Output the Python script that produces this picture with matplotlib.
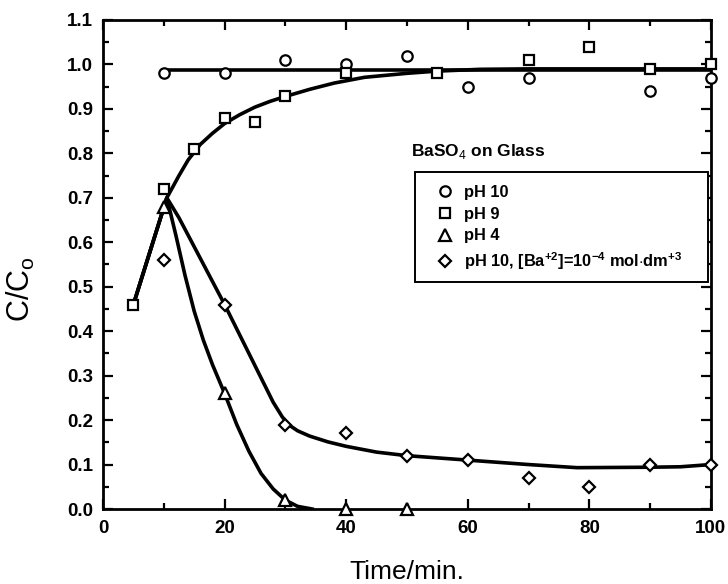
import matplotlib.pyplot as plt
from matplotlib.ticker import MultipleLocator
from matplotlib.patches import Rectangle

plt.rcParams['font.family'] = ['Liberation Sans', 'DejaVu Sans']
plt.rcParams['mathtext.fontset'] = 'custom'
plt.rcParams['mathtext.rm'] = 'Liberation Sans'
plt.rcParams['mathtext.bf'] = 'Liberation Sans:bold'

# measured points
t_ph10 = [10, 20, 30, 40, 50, 60, 70, 90, 100]
c_ph10 = [0.98, 0.98, 1.01, 1.00, 1.02, 0.95, 0.97, 0.94, 0.97]

t_ph9 = [5, 10, 15, 20, 25, 30, 40, 55, 70, 80, 90, 100]
c_ph9 = [0.46, 0.72, 0.81, 0.88, 0.87, 0.93, 0.98, 0.98, 1.01, 1.04, 0.99, 1.00]

t_ph4 = [10, 20, 30, 40, 50]
c_ph4 = [0.68, 0.26, 0.02, 0.00, 0.00]

t_ba = [10, 20, 30, 40, 50, 60, 70, 80, 90, 100]
c_ba = [0.56, 0.46, 0.19, 0.17, 0.12, 0.11, 0.07, 0.05, 0.10, 0.10]

# fitted curves
fit_ph10_t = [10.5, 100]
fit_ph10_c = [0.988, 0.988]

fit_ph9_t = [5, 10.5, 11.5, 12.5, 14, 16, 18, 20, 22.5, 25, 27.5, 30, 34, 38,
             43, 50, 55, 62, 70, 100]
fit_ph9_c = [0.46, 0.70, 0.725, 0.75, 0.785, 0.82, 0.845, 0.867, 0.887, 0.904,
             0.917, 0.928, 0.944, 0.958, 0.971, 0.98, 0.985, 0.989, 0.99, 0.99]

fit_ph4_t = [5, 10.5, 12, 13.5, 15, 16.5, 18, 20, 22, 24, 26, 28, 30, 32, 34.4]
fit_ph4_c = [0.46, 0.70, 0.615, 0.525, 0.445, 0.38, 0.325, 0.26, 0.19, 0.13,
             0.08, 0.045, 0.02, 0.006, 0.0]

fit_ba_t = [5, 10.5, 12.5, 15, 17.5, 20, 22, 24, 26, 28, 29.5, 30.5, 32, 34,
            37, 40, 45, 50, 60, 70, 78, 90, 95, 100]
fit_ba_c = [0.46, 0.70, 0.655, 0.59, 0.525, 0.46, 0.405, 0.35, 0.295, 0.24,
            0.207, 0.19, 0.176, 0.164, 0.151, 0.141, 0.128, 0.12, 0.11, 0.10,
            0.093, 0.094, 0.095, 0.10]

fig = plt.figure(figsize=(7.28, 5.84), dpi=100)
ax = fig.add_axes([0.1415, 0.1284, 0.835, 0.8374])

lw = 2.6
for ft, fc in [(fit_ph10_t, fit_ph10_c), (fit_ph9_t, fit_ph9_c),
               (fit_ph4_t, fit_ph4_c), (fit_ba_t, fit_ba_c)]:
    ax.plot(ft, fc, color='black', lw=lw, solid_joinstyle='round', zorder=2)

mk = dict(ls='none', mfc='white', mec='black', mew=1.6, zorder=3, clip_on=False)
h1, = ax.plot(t_ph10, c_ph10, marker='o', ms=7.5, label='pH 10', **mk)
h2, = ax.plot(t_ph9, c_ph9, marker='s', ms=7, label='pH 9', **mk)
h3, = ax.plot(t_ph4, c_ph4, marker='^', ms=8, label='pH 4', **mk)
h4, = ax.plot(t_ba, c_ba, marker='D', ms=6.5,
              label=r'pH 10, [Ba$^{\mathbf{+2}}$]=10$^{\mathbf{-4}}$ mol$\cdot$dm$^{\mathbf{+3}}$',
              **mk)

ax.set_xlim(0, 100)
ax.set_ylim(0, 1.1)
ax.xaxis.set_major_locator(MultipleLocator(20))
ax.xaxis.set_minor_locator(MultipleLocator(10))
ax.yaxis.set_major_locator(MultipleLocator(0.1))
ax.yaxis.set_minor_locator(MultipleLocator(0.05))
ax.yaxis.set_major_formatter(plt.FuncFormatter(lambda v, p: f'{v:.1f}'))
ax.tick_params(which='both', direction='in', top=True, right=True, width=1.6,
               labelsize=13.5)
ax.tick_params(which='major', length=7)
ax.tick_params(which='minor', length=4)
ax.tick_params(axis='y', pad=7)
ax.tick_params(axis='x', pad=8)
for lab in ax.get_xticklabels() + ax.get_yticklabels():
    lab.set_fontweight('bold')
for s in ax.spines.values():
    s.set_linewidth(2)

ax.set_xlabel('Time/min.', fontsize=19)
ax.xaxis.set_label_coords(0.5, -0.105)
ax.set_ylabel(r'C/C$_\mathrm{o}$', fontsize=22)
ax.yaxis.set_label_coords(-0.108, 0.45)

# legend box (wider than the entries, as in the original)
ax.add_patch(Rectangle((0.513, 0.464), 0.482, 0.225, transform=ax.transAxes,
                       facecolor='white', edgecolor='black', lw=1.4, zorder=4))
leg = ax.legend(handles=[h1, h2, h3, h4], loc='upper left',
                bbox_to_anchor=(0.52, 0.695), frameon=False, handlelength=1.2,
                handletextpad=0.6, borderpad=0.45, labelspacing=0.42,
                prop={'weight': 'bold', 'size': 11.8})
leg.set_zorder(5)
ax.text(0.507, 0.712, r'BaSO$_4$ on Glass', transform=ax.transAxes,
        fontsize=12.5, fontweight='bold', va='bottom', ha='left')

fig.savefig('out.png', dpi=100)
